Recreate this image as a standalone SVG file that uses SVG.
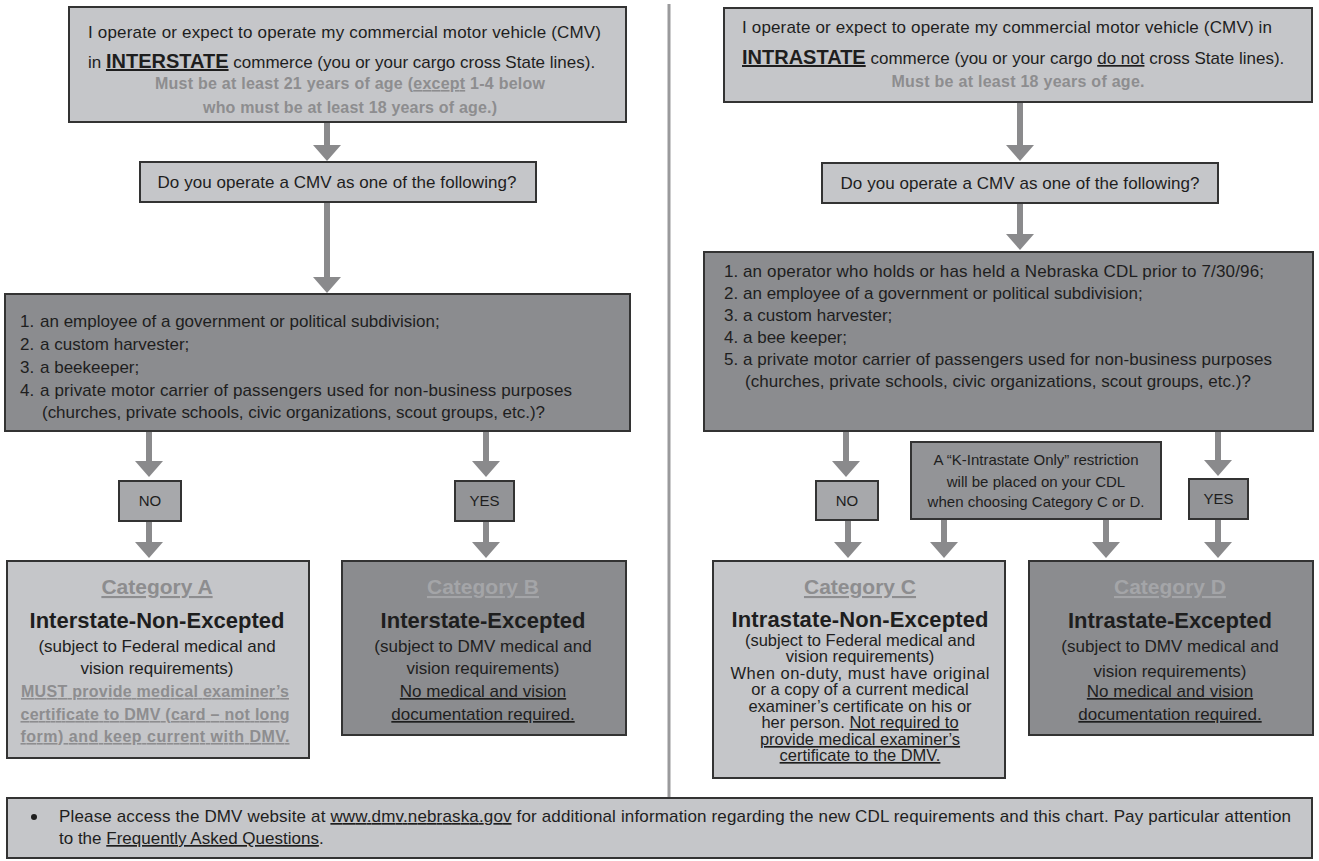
<svg xmlns="http://www.w3.org/2000/svg" width="1319" height="861" viewBox="0 0 1319 861">
<style>
text{font-family:"Liberation Sans",Arial,sans-serif;font-size:17px;fill:#1e1e1e}
.c{text-anchor:middle}
.g{fill:#8d8d8f;font-weight:bold}
.gb{fill:#a4a5a8;font-weight:bold}
.u{text-decoration:underline}
.b{font-weight:bold}
.lt{fill:#c5c6c9;stroke:#333;stroke-width:2}
.dk{fill:#8b8c8f;stroke:#333;stroke-width:2}
.md{fill:#a7a8ab;stroke:#333;stroke-width:2}
.md2{fill:#939497;stroke:#333;stroke-width:2}
.conn line{stroke:#8a8a8c;stroke-width:6;marker-end:url(#ah)}
.sm{font-size:15px}
.cc{font-size:16.5px}
.hd{font-size:21px;font-weight:bold}
.tt{font-size:22px;font-weight:bold}
.ga{font-size:16px}
</style>
<defs>
<marker id="ah" markerUnits="userSpaceOnUse" viewBox="0 0 16 28" refX="0" refY="14" markerWidth="16" markerHeight="28" orient="auto">
<path d="M0,0 L16,14 L0,28 Z" fill="#8a8a8c"/>
</marker>
</defs>
<rect width="1319" height="861" fill="#ffffff"/>
<line x1="669" y1="4" x2="669" y2="798" stroke="#9a9a9c" stroke-width="3"/>

<g id="connectors" class="conn">
<line x1="327" y1="122" x2="327" y2="145"/>
<line x1="327" y1="202" x2="327" y2="277"/>
<line x1="149" y1="431" x2="149" y2="461"/>
<line x1="149" y1="521" x2="149" y2="542"/>
<line x1="486" y1="431" x2="486" y2="461"/>
<line x1="486" y1="521" x2="486" y2="542"/>
<line x1="1020" y1="102" x2="1020" y2="145"/>
<line x1="1020" y1="203" x2="1020" y2="234"/>
<line x1="846" y1="431" x2="846" y2="461"/>
<line x1="848" y1="520" x2="848" y2="542"/>
<line x1="1218" y1="431" x2="1218" y2="460"/>
<line x1="1218" y1="519" x2="1218" y2="542"/>
<line x1="944" y1="519" x2="944" y2="542"/>
<line x1="1106" y1="519" x2="1106" y2="542"/>
</g>

<g id="interstate">
<rect class="lt" x="69" y="7" width="557" height="115"/>
<text x="88" y="38" textLength="513">I operate or expect to operate my commercial motor vehicle (CMV)</text>
<text x="88" y="68">in <tspan class="b u" style="font-size:20px">INTERSTATE</tspan> commerce (you or your cargo cross State lines).</text>
<text class="c g ga" x="350" y="89" textLength="390">Must be at least 21 years of age (<tspan class="u">except</tspan> 1-4 below</text>
<text class="c g ga" x="350" y="113" textLength="294">who must be at least 18 years of age.)</text>
</g>

<g id="intrastate">
<rect class="lt" x="724" y="8" width="588" height="94"/>
<text x="742" y="33" textLength="530">I operate or expect to operate my commercial motor vehicle (CMV) in</text>
<text x="742" y="64"><tspan class="b u" style="font-size:20px">INTRASTATE</tspan> commerce (you or your cargo <tspan class="u">do not</tspan> cross State lines).</text>
<text class="c g ga" x="1018" y="87" textLength="253">Must be at least 18 years of age.</text>
</g>

<g id="q-left">
<rect class="lt" x="140" y="162" width="396" height="40"/>
<text class="c" x="337" y="188" textLength="359">Do you operate a CMV as one of the following?</text>
</g>

<g id="q-right">
<rect class="lt" x="822" y="163" width="396" height="40"/>
<text class="c" x="1020" y="189" textLength="359">Do you operate a CMV as one of the following?</text>
</g>

<g id="list-left">
<rect class="dk" x="5" y="294" width="625" height="137"/>
<text x="20" y="327">1.</text><text x="40" y="327">an employee of a government or political subdivision;</text>
<text x="20" y="350">2.</text><text x="40" y="350">a custom harvester;</text>
<text x="20" y="373">3.</text><text x="40" y="373">a beekeeper;</text>
<text x="20" y="396">4.</text><text x="40" y="396" textLength="532">a private motor carrier of passengers used for non-business purposes</text>
<text x="42" y="418" textLength="503">(churches, private schools, civic organizations, scout groups, etc.)?</text>
</g>

<g id="list-right">
<rect class="dk" x="704" y="252" width="609" height="179"/>
<text x="724" y="277">1.</text><text x="743" y="277" textLength="521">an operator who holds or has held a Nebraska CDL prior to 7/30/96;</text>
<text x="724" y="299">2.</text><text x="743" y="299">an employee of a government or political subdivision;</text>
<text x="724" y="321">3.</text><text x="743" y="321">a custom harvester;</text>
<text x="724" y="343">4.</text><text x="743" y="343">a bee keeper;</text>
<text x="724" y="365">5.</text><text x="743" y="365" textLength="529">a private motor carrier of passengers used for non-business purposes</text>
<text x="745" y="387" textLength="506">(churches, private schools, civic organizations, scout groups, etc.)?</text>
</g>

<g id="no-left">
<rect class="md" x="119" y="481" width="62" height="40"/>
<text class="c sm" x="150" y="506">NO</text>
</g>
<g id="yes-left">
<rect class="md2" x="455" y="481" width="59" height="40"/>
<text class="c sm" x="484.5" y="506">YES</text>
</g>
<g id="no-right">
<rect class="md" x="816" y="481" width="62" height="39"/>
<text class="c sm" x="847" y="506">NO</text>
</g>
<g id="k-note">
<rect class="md2" x="911" y="442" width="250" height="77"/>
<text class="c sm" x="1036" y="465">A “K-Intrastate Only” restriction</text>
<text class="c sm" x="1036" y="487">will be placed on your CDL</text>
<text class="c sm" x="1036" y="507">when choosing Category C or D.</text>
</g>
<g id="yes-right">
<rect class="md2" x="1189" y="479" width="59" height="40"/>
<text class="c sm" x="1218.5" y="504">YES</text>
</g>

<g id="category-a">
<rect class="lt" x="7" y="561" width="302" height="197"/>
<text class="c hd g u" x="157" y="594">Category A</text>
<text class="c tt" x="157" y="628" textLength="255">Interstate-Non-Excepted</text>
<text class="c" x="157" y="652">(subject to Federal medical and</text>
<text class="c" x="157" y="674">vision requirements)</text>
<text class="c g u" x="155" y="697" style="font-size:16px" textLength="268">MUST provide medical examiner’s</text>
<text class="c g u" x="155" y="720" style="font-size:16px" textLength="269">certificate to DMV (card – not long</text>
<text class="c g u" x="155" y="742" style="font-size:16px" textLength="269">form) and keep current with DMV.</text>
</g>

<g id="category-b">
<rect class="dk" x="342" y="561" width="284" height="174"/>
<text class="c hd gb u" x="483" y="594">Category B</text>
<text class="c tt" x="483" y="628" textLength="205">Interstate-Excepted</text>
<text class="c" x="483" y="652">(subject to DMV medical and</text>
<text class="c" x="483" y="674">vision requirements)</text>
<text class="c u" x="483" y="697">No medical and vision</text>
<text class="c u" x="483" y="720">documentation required.</text>
</g>

<g id="category-c">
<rect class="lt" x="713" y="561" width="292" height="217"/>
<text class="c hd g u" x="860" y="594">Category C</text>
<text class="c tt" x="860" y="627" textLength="257">Intrastate-Non-Excepted</text>
<text class="c cc" x="860" y="646">(subject to Federal medical and</text>
<text class="c cc" x="860" y="662">vision requirements)</text>
<text class="c cc" x="860" y="679" textLength="259">When on-duty, must have original</text>
<text class="c cc" x="860" y="695">or a copy of a current medical</text>
<text class="c cc" x="860" y="712">examiner’s certificate on his or</text>
<text class="c cc" x="860" y="728">her person. <tspan class="u">Not required to</tspan></text>
<text class="c cc u" x="860" y="745">provide medical examiner’s</text>
<text class="c cc u" x="860" y="761">certificate to the DMV.</text>
</g>

<g id="category-d">
<rect class="dk" x="1029" y="561" width="284" height="174"/>
<text class="c hd gb u" x="1170" y="594">Category D</text>
<text class="c tt" x="1170" y="628" textLength="204">Intrastate-Excepted</text>
<text class="c" x="1170" y="652">(subject to DMV medical and</text>
<text class="c" x="1170" y="677">vision requirements)</text>
<text class="c u" x="1170" y="697">No medical and vision</text>
<text class="c u" x="1170" y="720">documentation required.</text>
</g>

<g id="note">
<rect class="lt" x="7" y="798" width="1305" height="60"/>
<circle cx="34" cy="817" r="3" fill="#1e1e1e"/>
<text x="59" y="822" textLength="1232">Please access the DMV website at <tspan class="u">www.dmv.nebraska.gov</tspan> for additional information regarding the new CDL requirements and this chart. Pay particular attention</text>
<text x="59" y="844">to the <tspan class="u">Frequently Asked Questions</tspan>.</text>
</g>
</svg>
